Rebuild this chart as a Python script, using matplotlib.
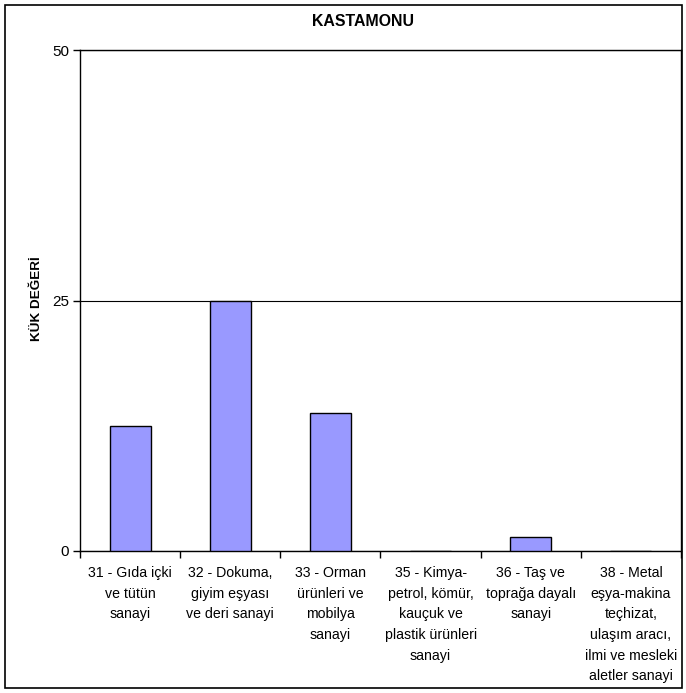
import numpy as np
import matplotlib.pyplot as plt
from matplotlib.patches import Rectangle

plt.rcParams['font.family'] = ['Liberation Sans', 'DejaVu Sans']

# data
sectors = ['31 - Gıda içki\nve tütün\nsanayi',
           '32 - Dokuma,\ngiyim eşyası\nve deri sanayi',
           '33 - Orman\nürünleri ve\nmobilya\nsanayi',
           '35 - Kimya-\npetrol, kömür,\nkauçuk ve\nplastik ürünleri\nsanayi',
           '36 - Taş ve\ntoprağa dayalı\nsanayi',
           '38 - Metal\neşya-makina\nteçhizat,\nulaşım aracı,\nilmi ve mesleki\naletler sanayi']
kuk = [12.5, 25.0, 13.8, 0.0, 1.4, 0.0]
yticks = [0, 25, 50]

fig = plt.figure(figsize=(6.86, 6.93), dpi=100)
ax = fig.add_axes([80/686, 1-551/693, 601/686, 501/693])

x = np.arange(len(sectors))
ax.bar(x, kuk, width=0.41, color='#9999FF', edgecolor='black', linewidth=1.0, zorder=3)

ax.set_xlim(-0.5, len(sectors)-0.5)
ax.set_ylim(0, 50)
ax.set_yticks(yticks)
ax.set_yticklabels([str(v) for v in yticks], fontsize=11)
ax.tick_params(axis='y', direction='out', length=5, width=1, pad=3)
ax.yaxis.grid(True, color='black', linewidth=0.8, zorder=0)

# labels under categories, tick marks between them
ax.set_xticks(x)
ax.set_xticklabels(sectors, fontsize=10.2, linespacing=1.6, va='top')
ax.tick_params(axis='x', which='major', length=0, pad=11)
ax.set_xticks(np.arange(-0.5, len(sectors)), minor=True)
ax.tick_params(axis='x', which='minor', direction='out', length=5, width=1)

for s in ax.spines.values():
    s.set_linewidth(1.0)

ax.set_ylabel('KÜK DEĞERİ', fontsize=9.7, fontweight='bold')
ax.yaxis.set_label_coords(-0.062, 0.503)
fig.text(0.5 + 40/686/2, 1-22/693, 'KASTAMONU', fontsize=11.4, fontweight='bold',
         ha='center', va='center')

# chart area border
fig.patches.append(Rectangle((5/686, 5/693), 677/686, 683/693, transform=fig.transFigure,
                             fill=False, edgecolor='black', linewidth=1.2))

fig.savefig('out.png', dpi=100)
